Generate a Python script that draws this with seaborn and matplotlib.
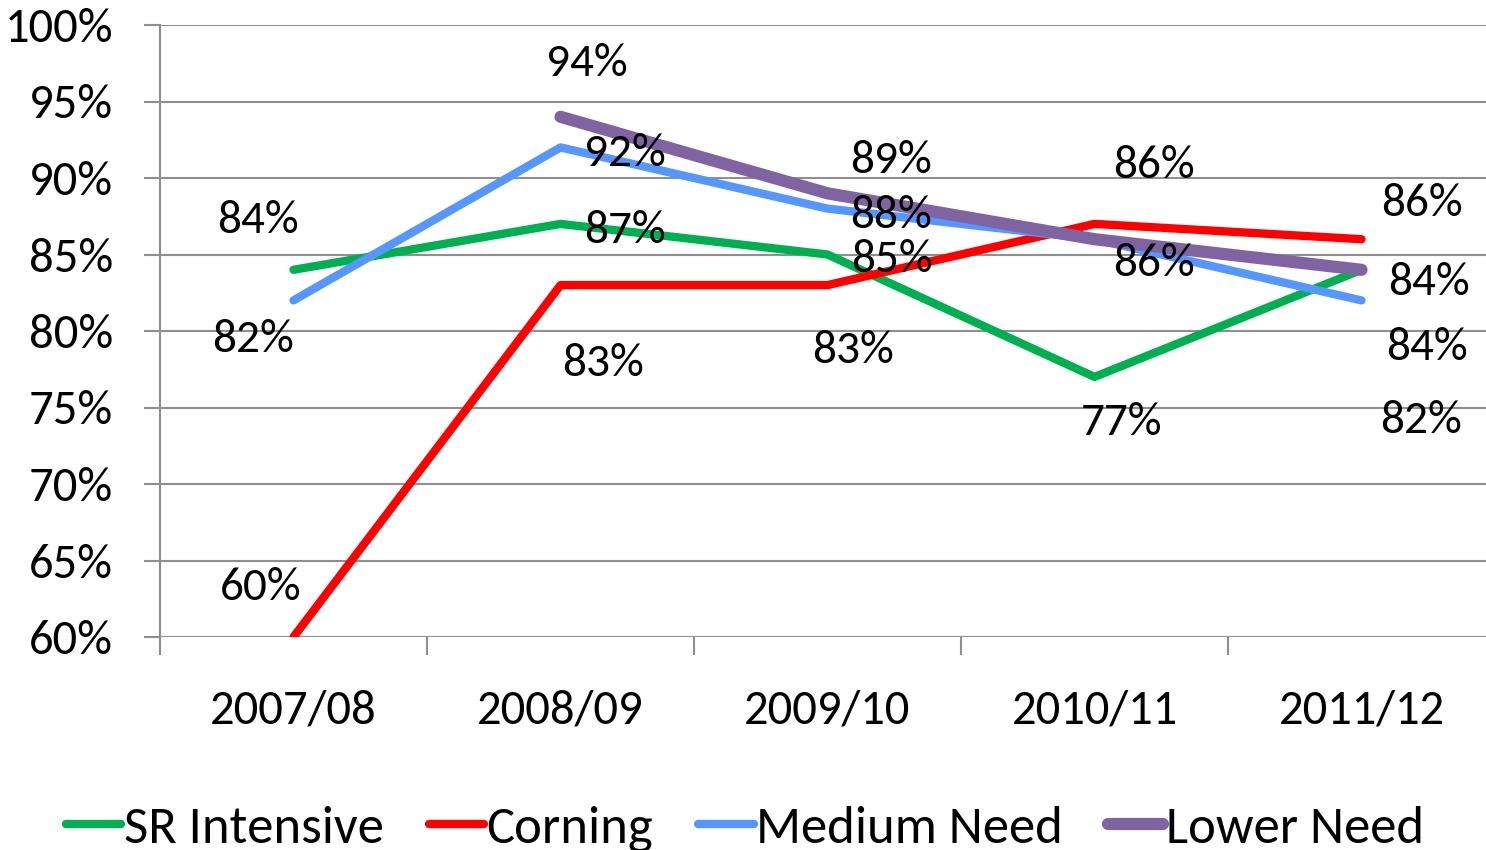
"""
Line chart of percentage by year for four groups, with data labels.
"""

import matplotlib

matplotlib.use("Agg")
import matplotlib.pyplot as plt
import numpy as np
import pandas as pd
import seaborn as sns
from matplotlib.lines import Line2D
from matplotlib.ticker import FixedLocator, FuncFormatter

years = ["2007/08", "2008/09", "2009/10", "2010/11", "2011/12"]
series_names = ["SR Intensive", "Corning", "Medium Need", "Lower Need"]
sr_intensive = [84, 87, 85, 77, 84]
corning = [60, 83, 83, 87, 86]
medium_need = [82, 92, 88, 86, 82]
lower_need = [np.nan, 94, 89, 86, 84]

# which points carry a printed label (Excel hid the Corning 2010/11 one)
show_label = {
    "SR Intensive": [True, True, True, True, True],
    "Corning": [True, True, True, False, True],
    "Medium Need": [True, True, True, True, True],
    "Lower Need": [False, True, True, True, True],
}

# style
colors = {
    "SR Intensive": "#00B050",
    "Corning": "#FF0000",
    "Medium Need": "#5597FF",
    "Lower Need": "#8064A2",
}
widths = {"SR Intensive": 6.0, "Corning": 6.0, "Medium Need": 6.0, "Lower Need": 8.8}
# label offsets from the point in pixels (dx right, dy up to baseline)
label_offsets = {
    "SR Intensive": [(-36, 35), (64, -21), (64, -20), (27, -60), (67, -27)],
    "Corning": [(-33, 35), (42, -93), (25, -80), None, (60, 21)],
    "Medium Need": [(-41, -54), (64, -21), (64, -21), (59, -39), (60, -135)],
    "Lower Need": [None, (26, 39), (64, 18), (59, 59), (65, -92)],
}

values = {
    "SR Intensive": sr_intensive,
    "Corning": corning,
    "Medium Need": medium_need,
    "Lower Need": lower_need,
}

rows = []
for name in series_names:
    for i, (year, v) in enumerate(zip(years, values[name])):
        rows.append({"series": name, "pos": i, "year": year, "value": v})
df = pd.DataFrame(rows)

sns.set_theme(style="white")
plt.rcParams["font.family"] = ["Carlito", "Liberation Sans Narrow", "Roboto Condensed", "DejaVu Sans"]
plt.rcParams["text.color"] = "black"

DPI = 100
fig = plt.figure(figsize=(14.86, 8.5), dpi=DPI)
ax = fig.add_axes([160 / 1486, 1 - 637 / 850, 1335 / 1486, 612 / 850])

grid_color = "#8f8f8f"
px = 72 / DPI

for name in series_names:
    sub = df[df["series"] == name].dropna(subset=["value"])
    sns.lineplot(
        data=sub,
        x="pos",
        y="value",
        ax=ax,
        color=colors[name],
        linewidth=widths[name],
        sort=False,
        solid_capstyle="round",
        solid_joinstyle="round",
        zorder=3,
    )
    for i, v in enumerate(values[name]):
        off = label_offsets[name][i]
        if not show_label[name][i] or off is None or np.isnan(v):
            continue
        ax.annotate(
            f"{v:.0f}%",
            xy=(i, v),
            xytext=(off[0] * px, (off[1] + 2) * px),
            textcoords="offset points",
            ha="center",
            va="baseline",
            fontsize=34,
            color="black",
            zorder=5,
            annotation_clip=False,
        )

ax.set_xlim(-0.5, len(years) - 0.5)
ax.set_ylim(60, 100)
ax.set_xlabel("")
ax.set_ylabel("")

ax.yaxis.set_major_locator(FixedLocator(np.arange(60, 101, 5)))
ax.yaxis.set_major_formatter(FuncFormatter(lambda v, _: f"{v:.0f}%"))
ax.set_xticks(range(len(years)))
ax.set_xticklabels(years)
ax.xaxis.set_minor_locator(FixedLocator(np.arange(-0.5, len(years), 1.0)))

ax.grid(axis="y", color=grid_color, linewidth=1.5)
ax.set_axisbelow(True)
for side in ["top", "right", "bottom"]:
    ax.spines[side].set_visible(False)
ax.spines["left"].set_color(grid_color)
ax.spines["left"].set_linewidth(1.5)

ax.tick_params(axis="y", which="major", length=16 * px, width=1.5, color=grid_color,
               pad=31 * px, labelsize=35, labelcolor="black", left=True)
ax.tick_params(axis="x", which="major", length=0, pad=53 * px, labelsize=35,
               labelcolor="black")
ax.tick_params(axis="x", which="minor", length=18 * px, width=1.5, color=grid_color,
               bottom=True, direction="out")
ax.axhline(60, color=grid_color, linewidth=1.5, zorder=1)

handles = [
    Line2D([0], [0], color=colors[n], linewidth=widths[n], solid_capstyle="round")
    for n in series_names
]
fig.legend(
    handles,
    series_names,
    loc="center",
    bbox_to_anchor=(745 / 1486, 1 - 829 / 850),
    ncol=4,
    frameon=False,
    fontsize=38,
    labelcolor="black",
    handlelength=1.05,
    handletextpad=0.05,
    columnspacing=0.85,
    borderpad=0,
)

fig.savefig("out.png", dpi=DPI)
plt.close(fig)
